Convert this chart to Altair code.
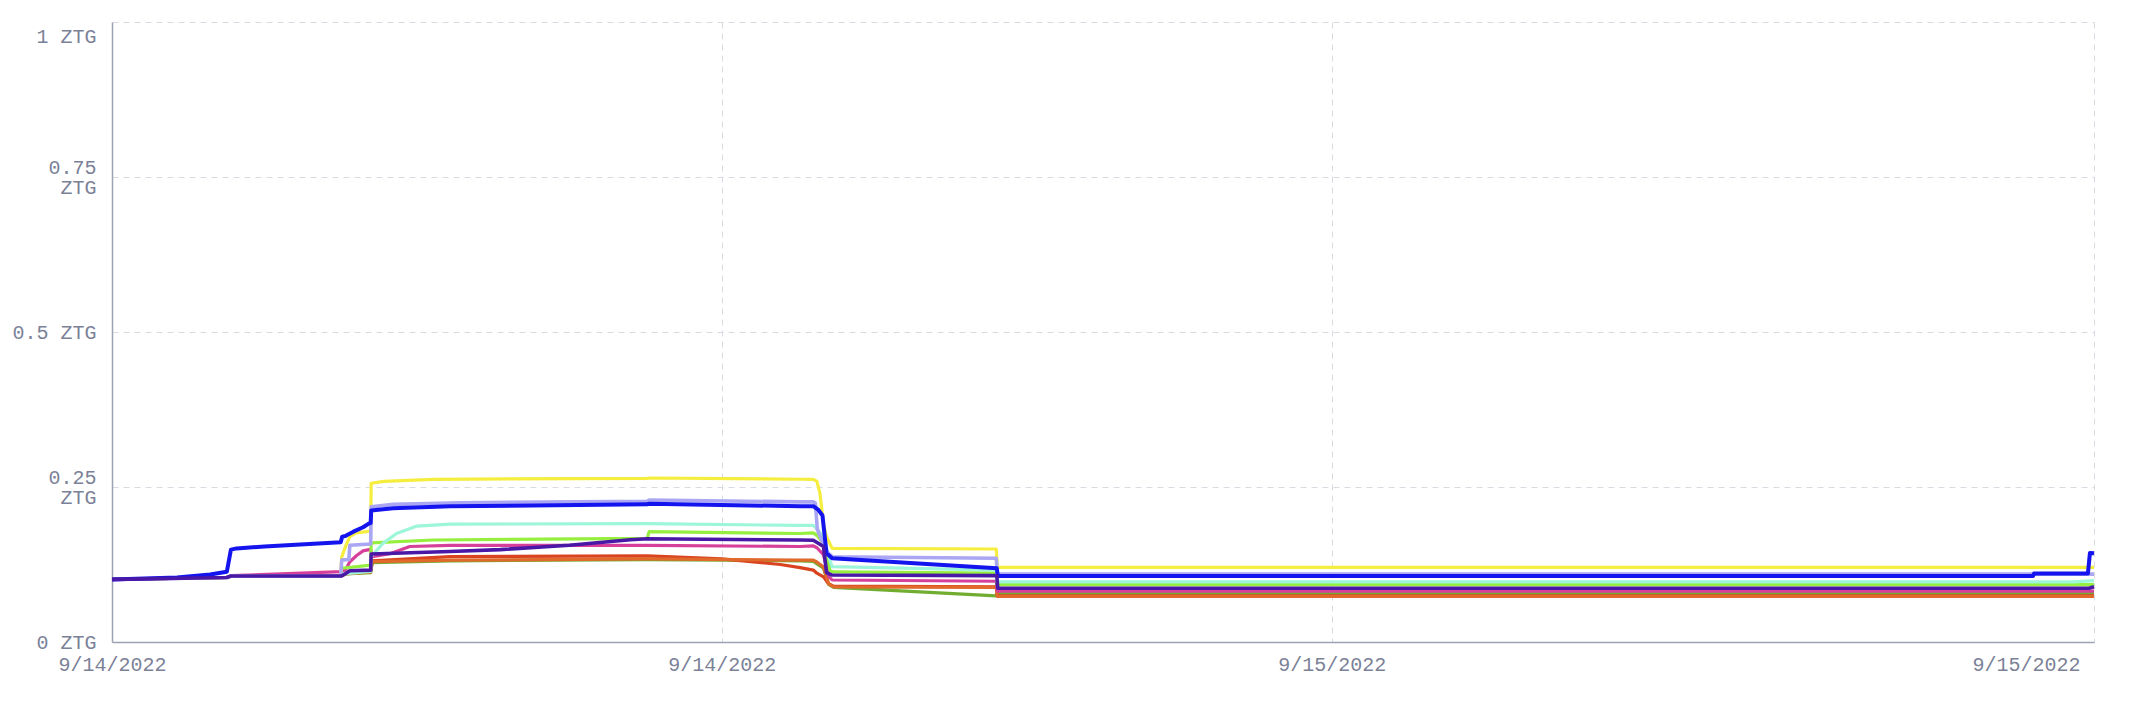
import altair as alt
import pandas as pd

# ---- data (hours after 9/14/2022 00:00, price in ZTG) ----
series_names = ["olive", "red", "orange", "pink", "lime", "aqua", "yellow", "lavender", "blue", "purple"]
series_colors = ["#71ad30", "#d9431f", "#e0692b", "#d7409a", "#96ef3e", "#9df5da", "#f6ee3f", "#aaa6f4", "#1414ee", "#4a18a6"]
series_widths = [3.2, 3.2, 3.2, 3.2, 3.2, 3.2, 3.2, 3.6, 4, 3.6]

olive_t = [0, 2.26, 2.34, 4.50, 4.60, 5.09, 5.12, 6.65, 10.53, 13.54, 13.80, 14.00, 14.10, 14.20, 17.40, 17.42, 39]
olive_v = [0.101, 0.104, 0.1065, 0.1065, 0.110, 0.112, 0.128, 0.131, 0.133, 0.131, 0.130, 0.119, 0.093, 0.088, 0.0745, 0.0785, 0.0785]

red_t = [0, 2.26, 2.34, 4.50, 4.60, 5.09, 5.12, 6.65, 10.53, 12.0, 13.15, 13.54, 13.80, 13.87, 14.00, 14.10, 14.20, 17.40, 17.42, 39]
red_v = [0.101, 0.104, 0.1065, 0.1065, 0.111, 0.114, 0.131, 0.1376, 0.139, 0.134, 0.125, 0.120, 0.116, 0.111, 0.105, 0.094, 0.090, 0.089, 0.0745, 0.0745]

orange_t = [0, 2.26, 2.34, 4.50, 4.60, 5.09, 5.12, 6.65, 10.53, 13.54, 13.80, 13.87, 14.00, 14.10, 14.20, 17.40, 17.42, 39]
orange_v = [0.101, 0.104, 0.1065, 0.1065, 0.110, 0.113, 0.1295, 0.132, 0.134, 0.132, 0.132, 0.129, 0.121, 0.094, 0.089, 0.088, 0.0735, 0.0735]

pink_t = [0, 2.26, 2.34, 4.52, 4.60, 4.68, 4.82, 4.94, 5.06, 5.09, 5.12, 5.47, 5.86, 6.65, 10.53, 13.54, 13.80, 13.87, 14.00, 14.10, 14.17, 17.40, 17.42, 39]
pink_v = [0.101, 0.104, 0.107, 0.1135, 0.117, 0.1295, 0.140, 0.147, 0.149, 0.149, 0.1376, 0.1425, 0.154, 0.156, 0.156, 0.154, 0.155, 0.152, 0.141, 0.106, 0.100, 0.098, 0.082, 0.082]

lime_t = [0, 2.26, 2.34, 4.50, 4.52, 5.09, 5.10, 6.32, 10.53, 10.57, 13.54, 13.80, 13.87, 14.00, 14.13, 14.20, 17.40, 17.42, 39]
lime_v = [0.101, 0.104, 0.1065, 0.1065, 0.119, 0.124, 0.160, 0.1645, 0.167, 0.178, 0.175, 0.176, 0.172, 0.159, 0.115, 0.113, 0.111, 0.0925, 0.0925]

aqua_t = [0, 2.26, 2.34, 4.50, 4.55, 5.09, 5.10, 5.33, 5.60, 6.00, 6.65, 10.53, 13.54, 13.80, 13.87, 14.00, 14.13, 14.17, 17.40, 17.42, 38.6, 39]
aqua_v = [0.101, 0.104, 0.1065, 0.1065, 0.110, 0.114, 0.1376, 0.159, 0.175, 0.187, 0.190, 0.191, 0.188, 0.188, 0.183, 0.169, 0.131, 0.1215, 0.116, 0.097, 0.097, 0.099]

yellow_t = [0, 2.26, 2.34, 4.50, 4.52, 4.60, 4.68, 4.80, 5.01, 5.09, 5.10, 5.35, 6.32, 10.53, 10.57, 13.54, 13.80, 13.87, 13.93, 14.00, 14.06, 14.17, 17.40, 17.42, 39]
yellow_v = [0.101, 0.104, 0.1065, 0.1065, 0.137, 0.155, 0.170, 0.176, 0.178, 0.179, 0.256, 0.259, 0.2624, 0.264, 0.2645, 0.2625, 0.2622, 0.259, 0.240, 0.190, 0.170, 0.151, 0.150, 0.1205, 0.1205]

lavender_t = [0, 2.26, 2.34, 4.50, 4.52, 4.66, 4.68, 5.09, 5.10, 5.53, 6.85, 10.53, 10.57, 13.54, 13.80, 13.84, 13.88, 14.06, 14.17, 17.40, 17.42, 39]
lavender_v = [0.101, 0.104, 0.1065, 0.1065, 0.132, 0.133, 0.156, 0.158, 0.218, 0.222, 0.2247, 0.227, 0.229, 0.226, 0.226, 0.224, 0.181, 0.146, 0.1376, 0.135, 0.1095, 0.1095]

blue_t = [0, 1.28, 1.93, 2.26, 2.34, 2.45, 3.0, 4.50, 4.53, 4.59, 4.75, 4.94, 5.06, 5.09, 5.10, 5.53, 6.65, 10.53, 10.57, 13.54, 13.80, 13.90, 13.98, 14.06, 14.17, 17.41, 17.43, 37.80, 37.82, 38.88, 38.92, 39]
blue_v = [0.101, 0.104, 0.109, 0.1134, 0.149, 0.151, 0.154, 0.161, 0.170, 0.171, 0.178, 0.185, 0.1914, 0.192, 0.212, 0.2156, 0.219, 0.222, 0.223, 0.219, 0.219, 0.213, 0.204, 0.143, 0.135, 0.119, 0.1065, 0.1065, 0.1105, 0.1105, 0.1435, 0.143]

purple_t = [0, 2.26, 2.34, 4.52, 4.59, 4.68, 5.09, 5.10, 6.65, 7.64, 9.0, 10.2, 10.53, 13.54, 13.80, 14.00, 14.06, 14.17, 17.41, 17.43, 38.9, 39]
purple_v = [0.101, 0.104, 0.1065, 0.1065, 0.110, 0.115, 0.116, 0.142, 0.146, 0.149, 0.156, 0.165, 0.1665, 0.1645, 0.164, 0.154, 0.112, 0.108, 0.107, 0.0866, 0.0866, 0.089]

x_tick_hours = [0, 12, 24, 39]
y_tick_values = [0, 0.25, 0.5, 0.75, 1]

series_t = [olive_t, red_t, orange_t, pink_t, lime_t, aqua_t, yellow_t, lavender_t, blue_t, purple_t]
series_v = [olive_v, red_v, orange_v, pink_v, lime_v, aqua_v, yellow_v, lavender_v, blue_v, purple_v]

start = pd.Timestamp("2022-09-14 00:00:00")
rows = []
for name, ts, vs in zip(series_names, series_t, series_v):
    for t, v in zip(ts, vs):
        rows.append({"series": name, "time": start + pd.Timedelta(hours=t), "value": v})
df = pd.DataFrame(rows)


def dt(hours):
    ts = start + pd.Timedelta(hours=hours)
    return alt.DateTime(year=ts.year, month=ts.month, date=ts.day, hours=ts.hour, minutes=ts.minute)


label_font = "Liberation Mono"
label_size = 20
label_color = "#7b8197"
grid_color = "#d9dbe3"
domain_color = "#9da2b3"

x_enc = alt.X(
    "time:T",
    title=None,
    scale=alt.Scale(domain=[dt(0), dt(39)]),
    axis=alt.Axis(
        values=[dt(h) for h in x_tick_hours],
        format="%-m/%-d/%Y",
        labelFlush=False,
        labelOverlap=False,
        labelAlign={"condition": {"test": "datum.index == 1", "value": "right"}, "value": "center"},
        labelOffset={"condition": {"test": "datum.index == 1", "value": -14}, "value": 0},
        labelPadding=12,
        ticks=False,
        grid=True,
        gridDash=[6, 5],
        gridColor=grid_color,
        gridWidth=1,
        domainColor=domain_color,
        domainWidth=1.5,
        labelFont=label_font,
        labelFontSize=label_size,
        labelColor=label_color,
    ),
)

y_enc = alt.Y(
    "value:Q",
    title=None,
    scale=alt.Scale(domain=[0, 1], nice=False, zero=True),
    axis=alt.Axis(
        values=y_tick_values,
        labelExpr="(datum.value == 0.25 || datum.value == 0.75) ? [format(datum.value, ''), 'ZTG'] : format(datum.value, '') + ' ZTG'",
        labelOffset={
            "condition": [
                {"test": "datum.value == 1", "value": 14},
                {"test": "datum.value == 0.25 || datum.value == 0.75", "value": -10},
            ],
            "value": 0,
        },
        labelLineHeight=20,
        labelPadding=16,
        labelOverlap=False,
        labelFlush=False,
        ticks=False,
        grid=True,
        gridDash=[6, 5],
        gridColor=grid_color,
        gridWidth=1,
        domainColor=domain_color,
        domainWidth=1.5,
        labelFont=label_font,
        labelFontSize=label_size,
        labelColor=label_color,
    ),
)

base = alt.Chart(df).encode(x=x_enc, y=y_enc)

layers = []
for name, color, w in zip(series_names, series_colors, series_widths):
    layers.append(
        base.transform_filter(alt.datum.series == name).mark_line(color=color, strokeWidth=w, strokeJoin="round")
    )

chart = (
    alt.layer(*layers)
    .properties(
        width=1982,
        height=620,
        autosize=alt.AutoSizeParams(type="none"),
        padding={"left": 104, "top": 14, "right": 34, "bottom": 66},
        background="white",
    )
    .configure_view(stroke=None)
)

chart.save("out.html", embed_options={"renderer": "svg", "actions": False})
